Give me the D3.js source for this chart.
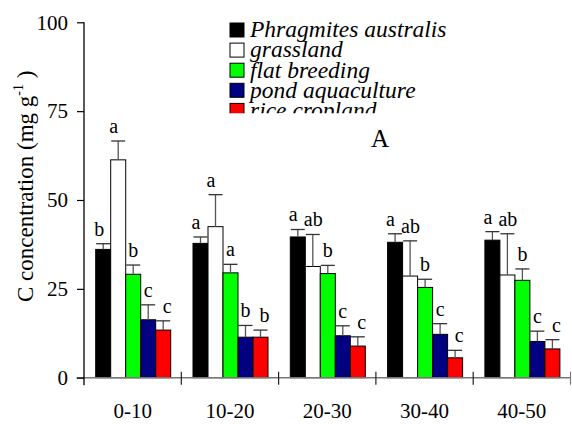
<!DOCTYPE html>
<html>
<head>
<meta charset="utf-8">
<script src="https://cdn.jsdelivr.net/npm/d3@7/dist/d3.min.js"></script>
<style>
  html, body { margin: 0; padding: 0; background: #fff; }
  svg { display: block; font-family: "Liberation Serif", "Times New Roman", serif; }
</style>
</head>
<body>
<svg id="chart" width="572" height="424"></svg>
<script>
// Soil depth classes (cm)
const depths = ["0-10", "10-20", "20-30", "30-40", "40-50"];
// Land-use types
const landUses = ["Phragmites australis", "grassland", "flat breeding", "pond aquaculture", "rice cropland"];
const fills = ["#000000", "#ffffff", "#00ff00", "#000080", "#ff0000"];

// Mean C concentration (mg g-1) per land use, ordered by depth
const phragmites = [36.1, 37.8, 39.6, 38.1, 38.7];
const grassland  = [61.3, 42.5, 31.3, 28.6, 28.9];
const flatBreed  = [29.1, 29.5, 29.3, 25.4, 27.4];
const pondAqua   = [16.3, 11.4, 11.8, 12.2, 10.2];
const riceCrop   = [13.4, 11.4, 8.9, 5.6, 8.1];

// Standard errors
const phragmitesSE = [1.6, 1.8, 2.1, 2.4, 2.4];
const grasslandSE  = [5.3, 9.0, 9.0, 9.9, 11.6];
const flatBreedSE  = [2.6, 2.4, 2.3, 2.3, 3.2];
const pondAquaSE   = [4.2, 3.3, 2.8, 3.0, 2.9];
const riceCropSE   = [2.6, 2.0, 2.6, 2.1, 2.6];

// Significance letters
const phragmitesSig = ["b", "a", "a", "a", "a"];
const grasslandSig  = ["a", "a", "ab", "ab", "ab"];
const flatBreedSig  = ["b", "a", "b", "b", "b"];
const pondAquaSig   = ["c", "b", "c", "c", "c"];
const riceCropSig   = ["c", "b", "c", "c", "c"];

const yTicks = [0, 25, 50, 75, 100];

const means = [phragmites, grassland, flatBreed, pondAqua, riceCrop];
const ses = [phragmitesSE, grasslandSE, flatBreedSE, pondAquaSE, riceCropSE];
const sigs = [phragmitesSig, grasslandSig, flatBreedSig, pondAquaSig, riceCropSig];

const rows = [];
depths.forEach((d, i) => landUses.forEach((s, j) => {
  rows.push({ depth: d, use: s, k: j, value: means[j][i], se: ses[j][i], sig: sigs[j][i] });
}));

const svg = d3.select("#chart");
const plotLeft = 84, plotRight = 570.5, plotTop = 22.3, plotBottom = 377.7;

const x0 = d3.scaleBand().domain(depths).range([plotLeft, plotRight]).padding(0);
const x1 = d3.scaleBand().domain(landUses).range([11.7, 86.7]).padding(0);
const y = d3.scaleLinear().domain([0, 100]).range([plotBottom, plotTop]);

// Bars
const g = svg.append("g");
g.selectAll("rect.bar").data(rows).join("rect")
  .attr("class", "bar")
  .attr("x", d => x0(d.depth) + x1(d.use))
  .attr("y", d => y(d.value))
  .attr("width", x1.bandwidth())
  .attr("height", d => y(0) - y(d.value))
  .attr("fill", d => fills[d.k])
  .attr("stroke", "#000")
  .attr("stroke-width", 1);

// Upper error bars
const bx = d => x0(d.depth) + x1(d.use);
const cx = d => bx(d) + x1.bandwidth() / 2;
g.selectAll("line.stem").data(rows).join("line")
  .attr("class", "stem")
  .attr("x1", cx).attr("x2", cx)
  .attr("y1", d => y(d.value)).attr("y2", d => y(d.value + d.se))
  .attr("stroke", "#555").attr("stroke-width", 1.3);
g.selectAll("line.cap").data(rows).join("line")
  .attr("class", "cap")
  .attr("x1", d => cx(d) - 7).attr("x2", d => cx(d) + 7)
  .attr("y1", d => y(d.value + d.se)).attr("y2", d => y(d.value + d.se))
  .attr("stroke", "#333").attr("stroke-width", 1.3);

// Significance letters: the two tallest series are set flush with the bar's
// left edge, the rest centred (rice nudged right to clear its neighbour)
g.selectAll("text.sig").data(rows).join("text")
  .attr("class", "sig")
  .attr("x", d => d.k < 2 ? bx(d) - 1.5 : cx(d) + (d.k === 4 ? 4 : 0))
  .attr("y", d => y(d.value + d.se) - 8)
  .attr("text-anchor", d => d.k < 2 ? "start" : "middle")
  .attr("font-size", 20)
  .text(d => d.sig);

// X axis line and category boundary ticks
svg.append("line")
  .attr("x1", plotLeft - 7.5).attr("x2", plotRight)
  .attr("y1", y(0)).attr("y2", y(0))
  .attr("stroke", "#777").attr("stroke-width", 1.5);
const bounds = depths.map(d => x0(d)).concat([x0(depths[depths.length - 1]) + x0.bandwidth()]);
svg.selectAll("line.xb").data(bounds.slice(1)).join("line")
  .attr("class", "xb")
  .attr("x1", d => d).attr("x2", d => d)
  .attr("y1", y(0) - 6).attr("y2", y(0) + 7)
  .attr("stroke", (d, i) => i === bounds.length - 2 ? "#777" : "#222")
  .attr("stroke-width", 1.2);

// Category labels
const xAxis = svg.append("g")
  .attr("transform", `translate(0,${y(0)})`)
  .call(d3.axisBottom(x0).tickSize(0).tickPadding(25));
xAxis.select(".domain").remove();
xAxis.selectAll("text").attr("font-size", 21).attr("font-family", "Liberation Serif").attr("fill", "#000");

// Y axis
const yAxis = svg.append("g")
  .attr("transform", `translate(${plotLeft},0)`)
  .call(d3.axisLeft(y).tickValues(yTicks).tickSize(7).tickPadding(9));
yAxis.select(".domain").remove();
yAxis.selectAll("line").attr("stroke", "#000").attr("stroke-width", 1.2);
yAxis.selectAll("text").attr("font-size", 21).attr("font-family", "Liberation Serif").attr("fill", "#000");
svg.append("line")
  .attr("x1", plotLeft).attr("x2", plotLeft)
  .attr("y1", plotTop).attr("y2", y(0) + 7.5)
  .attr("stroke", "#000").attr("stroke-width", 1.3);

// Y axis title
const yt = svg.append("text")
  .attr("transform", "translate(33,302) rotate(-90)")
  .attr("font-size", 23)
  .attr("text-anchor", "start");
yt.append("tspan").text("C concentration (mg g");
yt.append("tspan").attr("font-size", 14).attr("dy", -10).text("-1");
yt.append("tspan").attr("dy", 10).text(" )");

// Panel letter
svg.append("text")
  .attr("x", 380).attr("y", 146.7)
  .attr("text-anchor", "middle")
  .attr("font-size", 25)
  .text("A");

// Legend, clipped at its lower edge
svg.append("clipPath").attr("id", "legclip")
  .append("rect").attr("x", 200).attr("y", 0).attr("width", 372).attr("height", 113.3);
const leg = svg.append("g").attr("clip-path", "url(#legclip)");
const legRow = leg.selectAll("g").data(landUses).join("g")
  .attr("transform", (d, i) => `translate(230,${23 + i * 20.1})`);
legRow.append("rect")
  .attr("width", 14).attr("height", 14)
  .attr("fill", (d, i) => fills[i])
  .attr("stroke", "#000").attr("stroke-width", 1);
legRow.append("text")
  .attr("x", 20).attr("y", 14.3)
  .attr("font-size", 23.5)
  .attr("font-style", "italic")
  .text(d => d);
</script>
</body>
</html>
